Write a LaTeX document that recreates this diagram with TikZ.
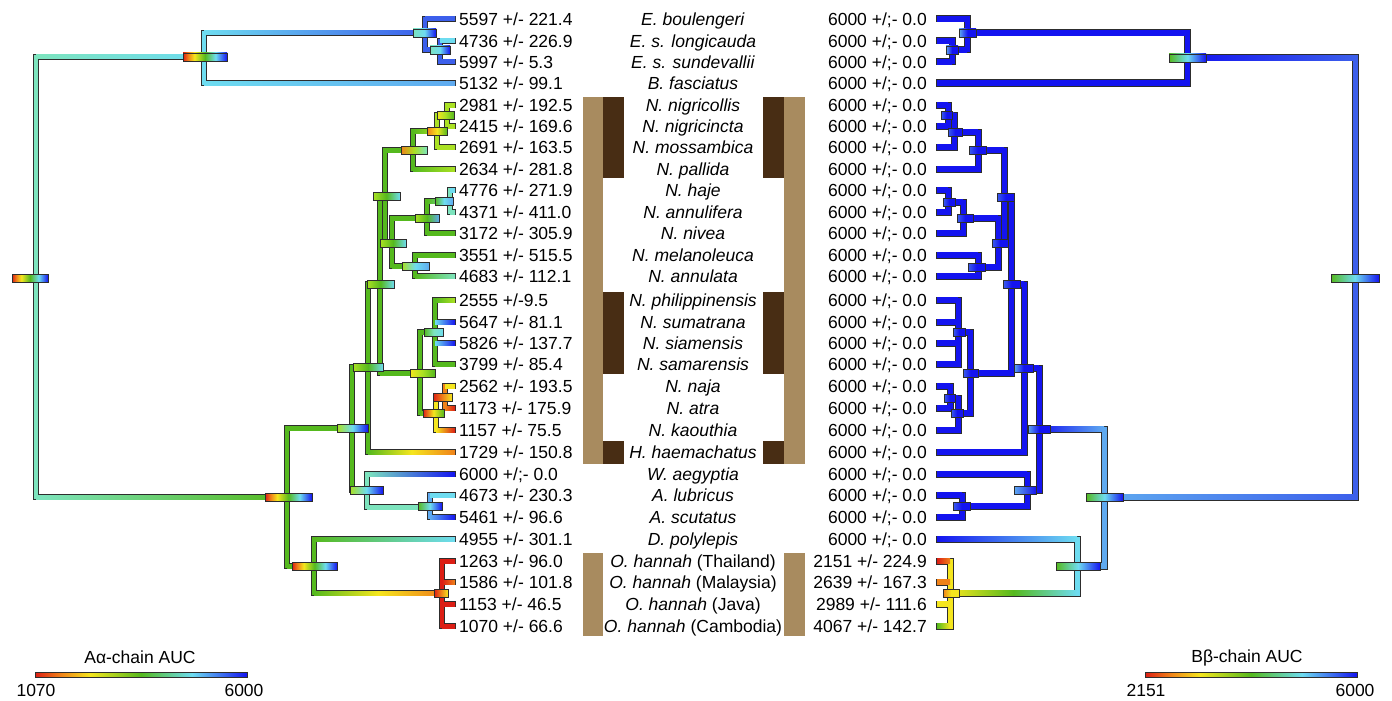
\documentclass[tikz,border=0pt]{standalone}
\usepackage{fontspec}
\setmainfont{Liberation Sans}
\pgfdeclarelayer{bg}\pgfdeclarelayer{fg}\pgfsetlayers{bg,main,fg}
\definecolor{cR}{RGB}{220,30,20}
\definecolor{cO}{RGB}{240,130,25}
\definecolor{cY}{RGB}{245,230,30}
\definecolor{cL}{RGB}{170,225,35}
\definecolor{cG}{RGB}{85,185,30}
\definecolor{cA}{RGB}{125,228,190}
\definecolor{cC}{RGB}{110,220,240}
\definecolor{cS}{RGB}{95,170,240}
\definecolor{cM}{RGB}{60,95,235}
\definecolor{cB}{RGB}{20,20,240}
\definecolor{tanbar}{RGB}{168,139,95}
\definecolor{darkbar}{RGB}{72,45,20}
\definecolor{olc}{RGB}{45,45,45}
\pgfdeclarehorizontalshading{rainbow}{100bp}{color(0bp)=(cR); color(25bp)=(cR); color(31bp)=(cO); color(38bp)=(cY); color(50bp)=(cG); color(62bp)=(cC); color(75bp)=(cB); color(100bp)=(cB)}
\def\iw{2}\def\ow{3}
% horizontal branch: xa xb y colA colB
\newcommand\HB[5]{%
 \begin{pgfonlayer}{bg}\fill[olc] ({#1-1},{#3-\ow}) rectangle ({#2+1},{#3+\ow});\end{pgfonlayer}
 \shade[left color=#4,right color=#5] (#1,{#3-\iw}) rectangle (#2,{#3+\iw});}
\newcommand\HBB[6]{%
 \begin{pgfonlayer}{bg}\fill[olc] ({#1-1},{#3-\ow}) rectangle ({#2+1},{#3+\ow});\end{pgfonlayer}
 \shade[left color=#4,right color=#6,middle color=#5] (#1,{#3-\iw}) rectangle (#2,{#3+\iw});}
% vertical branch: x ya yb col
\newcommand\VB[4]{%
 \begin{pgfonlayer}{bg}\fill[olc] ({#1-\ow},{#2-\ow}) rectangle ({#1+\ow},{#3+\ow});\end{pgfonlayer}
 \fill[#4] ({#1-\iw},{#2-\iw}) rectangle ({#1+\iw},{#3+\iw});}
% node bars
\newcommand\NB[6]{%
 \begin{pgfonlayer}{fg}\shadedraw[draw=olc,line width=0.9,left color=#4,right color=#6,middle color=#5] (#1,{#3-4}) rectangle (#2,{#3+4});\end{pgfonlayer}}
\newcommand\NBR[3]{%
 \begin{pgfonlayer}{fg}\shadedraw[draw=olc,line width=0.9,shading=rainbow] (#1,{#3-4}) rectangle (#2,{#3+4});\end{pgfonlayer}}
\newcommand\rowlab[5]{%
 \node[numl] (nl#1) at (459,{#2+6.3}) {#3};
 \node[spl] (sp#1) at (693,{#2+6.3}) {#4};
 \node[numr] (nr#1) at (927,{#2+6.3}) {#5};}
\begin{document}
\begin{tikzpicture}[x=1pt,y=-1pt,
  lab/.style={inner sep=0pt,font=\fontsize{17.5}{20}\selectfont},
  numl/.style={lab,anchor=base west},
  numr/.style={lab,anchor=base east},
  spl/.style={lab,anchor=base},
  legt/.style={lab,anchor=center}]
\useasboundingbox (0,0) rectangle (1392,701);
\begin{pgfonlayer}{bg}\fill[white] (0,0) rectangle (1392,701);\end{pgfonlayer}

% ---------- brown bars ----------
\fill[tanbar] (583,97) rectangle (603,464);
\fill[darkbar] (603,97) rectangle (624,178);
\fill[darkbar] (603,292) rectangle (624,374);
\fill[darkbar] (603,441) rectangle (624,464);
\fill[darkbar] (763,97) rectangle (784,178);
\fill[darkbar] (763,292) rectangle (784,374);
\fill[darkbar] (763,441) rectangle (784,464);
\fill[tanbar] (784,97) rectangle (805,464);
\fill[tanbar] (583,553) rectangle (603,636);
\fill[tanbar] (784,553) rectangle (805,636);

% ---------- labels ----------
\rowlab{0}{19}{5597 +/- 221.4}{\textit{E. boulengeri}}{6000 +/;- 0.0}
\rowlab{1}{41}{4736 +/- 226.9}{\textit{E. s. longicauda}}{6000 +/;- 0.0}
\rowlab{2}{62}{5997 +/- 5.3}{\textit{E. s. sundevallii}}{6000 +/;- 0.0}
\rowlab{3}{83}{5132 +/- 99.1}{\textit{B. fasciatus}}{6000 +/;- 0.0}
\rowlab{4}{105}{2981 +/- 192.5}{\textit{N. nigricollis}}{6000 +/;- 0.0}
\rowlab{5}{126}{2415 +/- 169.6}{\textit{N. nigricincta}}{6000 +/;- 0.0}
\rowlab{6}{147}{2691 +/- 163.5}{\textit{N. mossambica}}{6000 +/;- 0.0}
\rowlab{7}{169}{2634 +/- 281.8}{\textit{N. pallida}}{6000 +/;- 0.0}
\rowlab{8}{190}{4776 +/- 271.9}{\textit{N. haje}}{6000 +/;- 0.0}
\rowlab{9}{212}{4371 +/- 411.0}{\textit{N. annulifera}}{6000 +/;- 0.0}
\rowlab{10}{233}{3172 +/- 305.9}{\textit{N. nivea}}{6000 +/;- 0.0}
\rowlab{11}{255}{3551 +/- 515.5}{\textit{N. melanoleuca}}{6000 +/;- 0.0}
\rowlab{12}{276}{4683 +/- 112.1}{\textit{N. annulata}}{6000 +/;- 0.0}
\rowlab{13}{300}{2555 +/-9.5}{\textit{N. philippinensis}}{6000 +/;- 0.0}
\rowlab{14}{322}{5647 +/- 81.1}{\textit{N. sumatrana}}{6000 +/;- 0.0}
\rowlab{15}{343}{5826 +/- 137.7}{\textit{N. siamensis}}{6000 +/;- 0.0}
\rowlab{16}{364}{3799 +/- 85.4}{\textit{N. samarensis}}{6000 +/;- 0.0}
\rowlab{17}{386}{2562 +/- 193.5}{\textit{N. naja}}{6000 +/;- 0.0}
\rowlab{18}{408}{1173 +/- 175.9}{\textit{N. atra}}{6000 +/;- 0.0}
\rowlab{19}{430}{1157 +/- 75.5}{\textit{N. kaouthia}}{6000 +/;- 0.0}
\rowlab{20}{452}{1729 +/- 150.8}{\textit{H. haemachatus}}{6000 +/;- 0.0}
\rowlab{21}{474}{6000 +/;- 0.0}{\textit{W. aegyptia}}{6000 +/;- 0.0}
\rowlab{22}{495}{4673 +/- 230.3}{\textit{A. lubricus}}{6000 +/;- 0.0}
\rowlab{23}{517}{5461 +/- 96.6}{\textit{A. scutatus}}{6000 +/;- 0.0}
\rowlab{24}{539}{4955 +/- 301.1}{\textit{D. polylepis}}{6000 +/;- 0.0}
\rowlab{25}{561}{1263 +/- 96.0}{\textit{O. hannah} (Thailand)}{2151 +/- 224.9}
\rowlab{26}{582}{1586 +/- 101.8}{\textit{O. hannah} (Malaysia)}{2639 +/- 167.3}
\rowlab{27}{604}{1153 +/- 46.5}{\textit{O. hannah} (Java)}{2989 +/- 111.6}
\rowlab{28}{626}{1070 +/- 66.6}{\textit{O. hannah} (Cambodia)}{4067 +/- 142.7}

% ---------- left tree (A-alpha) ----------
\VB{36}{57}{497}{cA}
\HB{36}{204}{57}{cA}{cC}
\VB{204}{33}{83}{cC}
\HB{204}{425}{33}{cC}{cM}
\VB{425}{19}{50}{cM}
\HB{425}{455}{19}{cM}{cM}
\HB{425}{440}{50}{cM}{cM}
\VB{440}{41}{62}{cM}
\HB{440}{455}{41}{cC}{cC}
\HB{440}{455}{62}{cM}{cM}
\HB{204}{455}{83}{cC}{cS}
\NBR{12}{48}{278}
\NBR{183}{227}{57}
\NB{413}{436}{33}{cA}{cC}{cB}
\NB{430}{450}{50}{cA}{cC}{cB}

\HB{36}{287}{497}{cA}{cG}
\VB{287}{428}{566}{cG}
\HB{287}{352}{428}{cG}{cG}
\VB{352}{367}{490}{cG}
\HB{352}{368}{367}{cG}{cG}
\VB{368}{284}{452}{cG}
\HB{368}{380}{284}{cG}{cG}
\VB{380}{196}{373}{cG}
\HB{380}{385}{196}{cG}{cG}
\VB{385}{150}{243}{cG}
\HB{385}{413}{150}{cG}{cG}
\VB{413}{131}{169}{cG}
\HB{413}{437}{131}{cG}{cL}
\VB{437}{115}{147}{cL}
\HB{437}{447}{115}{cL}{cL}
\VB{447}{105}{126}{cL}
\HB{447}{455}{105}{cL}{cL}
\HB{447}{455}{126}{cL}{cL}
\HB{437}{455}{147}{cL}{cL}
\HB{413}{455}{169}{cG}{cL}
\HB{385}{392}{243}{cG}{cG}
\VB{392}{218}{266}{cG}
\HB{392}{427}{218}{cG}{cG}
\VB{427}{201}{233}{cG}
\HB{427}{455}{233}{cG}{cG}
\HB{427}{450}{201}{cG}{cA}
\VB{450}{190}{212}{cA}
\HB{450}{455}{190}{cC}{cC}
\HB{450}{455}{212}{cA}{cA}
\HB{392}{415}{266}{cG}{cG}
\VB{415}{255}{276}{cG}
\HB{415}{455}{255}{cG}{cG}
\HB{415}{455}{276}{cG}{cA}
\HB{380}{420}{373}{cG}{cG}
\VB{420}{332}{413}{cG}
\HB{420}{435}{332}{cG}{cG}
\VB{435}{300}{364}{cG}
\HB{435}{455}{300}{cG}{cL}
\HB{435}{455}{322}{cC}{cB}
\HB{435}{455}{343}{cC}{cB}
\HB{435}{455}{364}{cG}{cG}
\HB{420}{436}{413}{cG}{cY}
\VB{436}{397}{430}{cY}
\HB{436}{445}{397}{cO}{cO}
\VB{445}{386}{408}{cO}
\HB{445}{455}{386}{cY}{cY}
\HB{445}{455}{408}{cO}{cR}
\HB{436}{455}{430}{cY}{cR}
\HBB{368}{455}{452}{cG}{cY}{cO}
\HB{352}{367}{490}{cG}{cG}
\VB{367}{474}{507}{cA}
\HB{367}{455}{474}{cA}{cB}
\HB{367}{430}{507}{cA}{cA}
\VB{430}{495}{517}{cS}
\HB{430}{455}{495}{cC}{cC}
\HB{430}{455}{517}{cS}{cB}
\HB{287}{314}{566}{cG}{cG}
\VB{314}{539}{593}{cG}
\HB{314}{455}{539}{cG}{cC}
\HBB{314}{442}{593}{cG}{cY}{cO}
\VB{442}{561}{626}{cR}
\HB{442}{455}{561}{cR}{cR}
\HB{442}{455}{582}{cR}{cO}
\HB{442}{455}{604}{cR}{cR}
\HB{442}{455}{626}{cR}{cR}

\NBR{265}{312}{497}
\NB{337}{368}{428}{cL}{cC}{cB}
\NB{353}{383}{367}{cL}{cG}{cC}
\NB{367}{394}{284}{cL}{cG}{cC}
\NB{373}{400}{196}{cL}{cG}{cC}
\NB{401}{427}{150}{cO}{cL}{cA}
\NB{427}{447}{131}{cO}{cY}{cG}
\NB{437}{454}{115}{cY}{cL}{cG}
\NB{380}{406}{243}{cL}{cG}{cC}
\NB{415}{439}{218}{cL}{cG}{cS}
\NB{435}{453}{201}{cG}{cC}{cS}
\NB{402}{429}{266}{cL}{cC}{cS}
\NB{410}{435}{373}{cY}{cL}{cG}
\NB{424}{443}{332}{cG}{cA}{cC}
\NB{423}{444}{413}{cR}{cY}{cG}
\NB{433}{452}{397}{cR}{cO}{cY}
\NB{350}{383}{490}{cL}{cC}{cB}
\NB{418}{442}{506}{cG}{cC}{cB}
\NBR{292}{337}{566}
\NB{434}{448}{593}{cR}{cO}{cY}

% ---------- right tree (B-beta) ----------
\def\iw{2.5}\def\ow{3.5}
\VB{1355}{58}{497}{cM}
\HB{1187}{1355}{58}{cB}{cM}
\VB{1187}{33}{83}{cB}
\HB{967}{1187}{33}{cB}{cB}
\VB{967}{19}{50}{cB}
\HB{937}{967}{19}{cB}{cB}
\HB{952}{967}{50}{cB}{cB}
\VB{952}{41}{62}{cB}
\HB{937}{952}{41}{cB}{cB}
\HB{937}{952}{62}{cB}{cB}
\HB{937}{1187}{83}{cB}{cB}
\NB{1331}{1379}{278}{cG}{cC}{cB}
\NB{1169}{1206}{58}{cG}{cC}{cB}
\NB{959}{976}{33}{cS}{cB}{cB}
\NB{946}{958}{50}{cS}{cB}{cB}

\HB{1104}{1355}{497}{cS}{cM}
\VB{1104}{429}{566}{cS}
\HB{1039}{1104}{429}{cB}{cS}
\VB{1039}{368}{490}{cB}
\HB{1024}{1039}{368}{cB}{cB}
\VB{1024}{284}{452}{cB}
\HB{937}{1024}{452}{cB}{cB}
\HB{1011}{1024}{284}{cB}{cB}
\VB{1011}{197}{373}{cB}
\HB{1004}{1011}{197}{cB}{cB}
\VB{1004}{150}{243}{cB}
\HB{978}{1004}{150}{cB}{cB}
\VB{978}{132}{169}{cB}
\HB{954}{978}{132}{cB}{cB}
\VB{954}{115}{147}{cB}
\HB{948}{954}{115}{cB}{cB}
\VB{948}{105}{126}{cB}
\HB{937}{948}{105}{cB}{cB}
\HB{937}{948}{126}{cB}{cB}
\HB{937}{954}{147}{cB}{cB}
\HB{937}{978}{169}{cB}{cB}
\HB{998}{1004}{243}{cB}{cB}
\VB{998}{218}{267}{cB}
\HB{963}{998}{218}{cB}{cB}
\VB{963}{202}{233}{cB}
\HB{948}{963}{202}{cB}{cB}
\VB{948}{190}{212}{cB}
\HB{937}{948}{190}{cB}{cB}
\HB{937}{948}{212}{cB}{cB}
\HB{937}{963}{233}{cB}{cB}
\HB{978}{998}{267}{cB}{cB}
\VB{978}{255}{276}{cB}
\HB{937}{978}{255}{cB}{cB}
\HB{937}{978}{276}{cB}{cB}
\HB{970}{1011}{373}{cB}{cB}
\VB{970}{332}{413}{cB}
\HB{958}{970}{332}{cB}{cB}
\VB{958}{300}{364}{cB}
\HB{937}{958}{300}{cB}{cB}
\HB{937}{958}{322}{cB}{cB}
\HB{937}{958}{343}{cB}{cB}
\HB{937}{958}{364}{cB}{cB}
\HB{958}{970}{413}{cB}{cB}
\VB{958}{398}{430}{cB}
\HB{950}{958}{398}{cB}{cB}
\VB{950}{386}{408}{cB}
\HB{937}{950}{386}{cB}{cB}
\HB{937}{950}{408}{cB}{cB}
\HB{937}{958}{430}{cB}{cB}
\HB{1027}{1039}{490}{cB}{cB}
\VB{1027}{474}{506}{cB}
\HB{937}{1027}{474}{cB}{cB}
\HB{962}{1027}{506}{cB}{cB}
\VB{962}{495}{517}{cB}
\HB{937}{962}{495}{cB}{cB}
\HB{937}{962}{517}{cB}{cB}
\HB{1077}{1104}{566}{cS}{cS}
\VB{1077}{539}{593}{cC}
\HB{937}{1077}{539}{cB}{cC}
\HBB{950}{1077}{593}{cY}{cG}{cC}
\VB{950}{561}{626}{cY}
\HB{937}{950}{561}{cR}{cO}
\HB{937}{950}{582}{cO}{cO}
\HB{937}{950}{604}{cY}{cY}
\HB{937}{950}{626}{cG}{cY}

\NB{1086}{1123}{497}{cG}{cC}{cB}
\NB{1028}{1050}{429}{cS}{cB}{cB}
\NB{1014}{1033}{368}{cS}{cB}{cB}
\NB{1003}{1020}{284}{cM}{cB}{cB}
\NB{997}{1014}{197}{cM}{cB}{cB}
\NB{969}{986}{150}{cM}{cB}{cB}
\NB{948}{962}{132}{cM}{cB}{cB}
\NB{941}{952}{115}{cM}{cB}{cB}
\NB{992}{1008}{243}{cM}{cB}{cB}
\NB{957}{973}{218}{cM}{cB}{cB}
\NB{943}{955}{202}{cM}{cB}{cB}
\NB{968}{985}{267}{cM}{cB}{cB}
\NB{963}{978}{373}{cM}{cB}{cB}
\NB{953}{965}{332}{cM}{cB}{cB}
\NB{951}{963}{413}{cM}{cB}{cB}
\NB{944}{955}{398}{cM}{cB}{cB}
\NB{1014}{1036}{490}{cS}{cM}{cB}
\NB{953}{970}{506}{cM}{cB}{cB}
\NB{1056}{1100}{566}{cG}{cC}{cB}
\NB{943}{959}{593}{cO}{cY}{cY}

% ---------- legends ----------
\node[legt] (lgA) at (140,657.5) {Aα-chain AUC};
\shadedraw[draw=olc,line width=0.8,shading=rainbow] (35,672) rectangle (247,677);
\node[legt] (lgAmin) at (36,690) {1070};
\node[legt] (lgAmax) at (244,690) {6000};
\node[legt] (lgB) at (1247,657.5) {Bβ-chain AUC};
\shadedraw[draw=olc,line width=0.8,shading=rainbow] (1145,672) rectangle (1357,677);
\node[legt] (lgBmin) at (1146,690) {2151};
\node[legt] (lgBmax) at (1355,690) {6000};
\end{tikzpicture}
\end{document}
